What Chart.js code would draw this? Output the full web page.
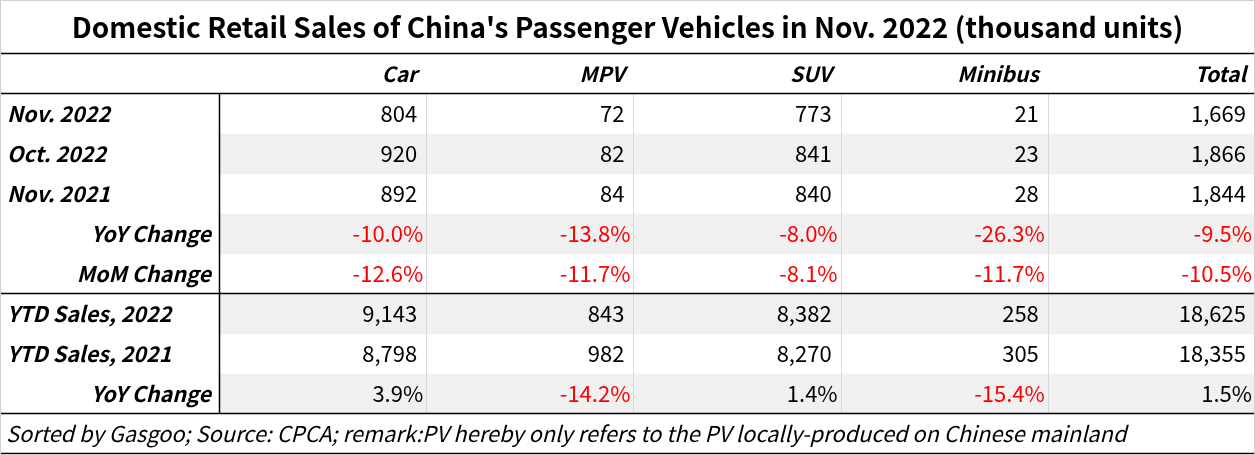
<!DOCTYPE html>
<html>
<head>
<meta charset="utf-8">
<script src="https://cdn.jsdelivr.net/npm/chart.js@4"></script>
<style>
  html, body { margin: 0; padding: 0; background: #fff; }
  #wrap { width: 1255px; height: 455px; }
</style>
</head>
<body>
<div id="wrap"><canvas id="table" width="1255" height="455"></canvas></div>
<script>
// --- Data ---
const titleText = "Domestic Retail Sales of China's Passenger Vehicles in Nov. 2022 (thousand units)";
const footnote = 'Sorted by Gasgoo; Source: CPCA; remark:PV hereby only refers to the PV locally-produced on Chinese mainland';
const categories = ['Car', 'MPV', 'SUV', 'Minibus', 'Total'];
const rowLabels = ['Nov. 2022', 'Oct. 2022', 'Nov. 2021', 'YoY Change', 'MoM Change', 'YTD Sales, 2022', 'YTD Sales, 2021', 'YoY Change'];
const nov2022 = [804, 72, 773, 21, 1669];
const oct2022 = [920, 82, 841, 23, 1866];
const nov2021 = [892, 84, 840, 28, 1844];
const yoyChange = [-10.0, -13.8, -8.0, -26.3, -9.5];
const momChange = [-12.6, -11.7, -8.1, -11.7, -10.5];
const ytd2022 = [9143, 843, 8382, 258, 18625];
const ytd2021 = [8798, 982, 8270, 305, 18355];
const ytdYoy = [3.9, -14.2, 1.4, -15.4, 1.5];

const rowValues = [nov2022, oct2022, nov2021, yoyChange, momChange, ytd2022, ytd2021, ytdYoy];
const percentRows = [false, false, false, true, true, false, false, true];
const rightLabelRows = [false, false, false, true, true, false, false, true];
const stripedRows = [false, true, false, true, false, true, false, true];

const FONT = '"Noto Sans CJK SC", "Noto Sans", sans-serif';

// y categories: header, data rows, footnote
const yLabels = ['header', ...rowLabels.map((r, i) => r + '#' + i), 'footer'];
const stripeData = [null, ...stripedRows.map(s => s ? [0, 5] : null), null];

function fmt(v, pct) {
    if (pct) return v.toFixed(1) + '%';
    return v.toLocaleString('en-US');
}

// --- Table drawing plugin (text + rules placed through the scales) ---
const tablePlugin = {
    id: 'tableCells',
    afterDatasetsDraw(chart) {
        const { ctx, scales: { x, y } } = chart;
        const left = x.getPixelForValue(x.min);
        const right = x.getPixelForValue(x.max);
        const colX = v => x.getPixelForValue(v);
        const rowTop = i => y.getPixelForValue(i) - 20;
        const rowMid = i => y.getPixelForValue(i);
        const nRows = rowLabels.length;

        ctx.save();
        ctx.textBaseline = 'middle';

        // header
        ctx.fillStyle = '#000';
        ctx.font = 'italic bold 21px ' + FONT;
        ctx.textAlign = 'right';
        categories.forEach((c, j) => ctx.fillText(c, colX(j + 1) - 9, rowMid(0)));

        // body
        rowLabels.forEach((label, r) => {
            const yi = r + 1;
            ctx.font = 'italic bold 21.5px ' + FONT;
            ctx.fillStyle = '#000';
            if (rightLabelRows[r]) {
                ctx.textAlign = 'right';
                ctx.fillText(label, colX(0) - 8, rowMid(yi));
            } else {
                ctx.textAlign = 'left';
                ctx.fillText(label, left + 7, rowMid(yi));
            }
            ctx.font = '22px ' + FONT;
            ctx.textAlign = 'right';
            rowValues[r].forEach((v, j) => {
                const pct = percentRows[r];
                ctx.fillStyle = pct && v < 0 ? '#ff0000' : '#000';
                ctx.fillText(fmt(v, pct), colX(j + 1) - (pct ? 3 : 9), rowMid(yi));
            });
        });

        // footnote
        ctx.fillStyle = '#000';
        ctx.font = 'italic 21.8px ' + FONT;
        ctx.textAlign = 'left';
        ctx.fillText(footnote, left + 6, rowMid(nRows + 1));

        // light column rules
        ctx.strokeStyle = '#d9d9d9';
        ctx.lineWidth = 1;
        ctx.beginPath();
        for (let j = 1; j < categories.length; j++) {
            const px = Math.round(colX(j)) + 0.5;
            ctx.moveTo(px, rowTop(1));
            ctx.lineTo(px, rowTop(nRows + 1));
        }
        ctx.stroke();

        // dark rules
        ctx.strokeStyle = '#000';
        ctx.lineWidth = 1.5;
        ctx.beginPath();
        [0, 1, 6, nRows + 1, nRows + 2].forEach(i => {
            const py = Math.round(rowTop(i)) - 0.5;
            ctx.moveTo(left, py);
            ctx.lineTo(right, py);
        });
        const vx = Math.round(colX(0)) + 0.5;
        ctx.moveTo(vx, rowTop(1));
        ctx.lineTo(vx, rowTop(nRows + 1));
        ctx.stroke();

        // outer frame
        ctx.strokeStyle = '#d0d0d0';
        ctx.lineWidth = 1;
        ctx.strokeRect(0.5, 0.5, chart.width - 1, chart.height - 1);
        ctx.restore();
    }
};

const ctx = document.getElementById('table').getContext('2d');
new Chart(ctx, {
    type: 'bar',
    data: {
        labels: yLabels,
        datasets: [{
            data: stripeData,
            backgroundColor: '#f0f0f0',
            borderWidth: 0,
            barPercentage: 1,
            categoryPercentage: 1
        }]
    },
    options: {
        indexAxis: 'y',
        responsive: false,
        animation: false,
        layout: { padding: { top: 0, bottom: 1, left: 0, right: 0 } },
        scales: {
            x: { type: 'linear', min: -219 / 207.2, max: 5, display: false },
            y: { type: 'category', display: false }
        },
        plugins: {
            legend: { display: false },
            tooltip: { enabled: false },
            title: {
                display: true,
                text: titleText,
                color: '#000',
                font: { family: FONT, size: 28, weight: 'bold', lineHeight: '32px' },
                padding: { top: 11, bottom: 11 }
            }
        }
    },
    plugins: [tablePlugin]
});
</script>
</body>
</html>
